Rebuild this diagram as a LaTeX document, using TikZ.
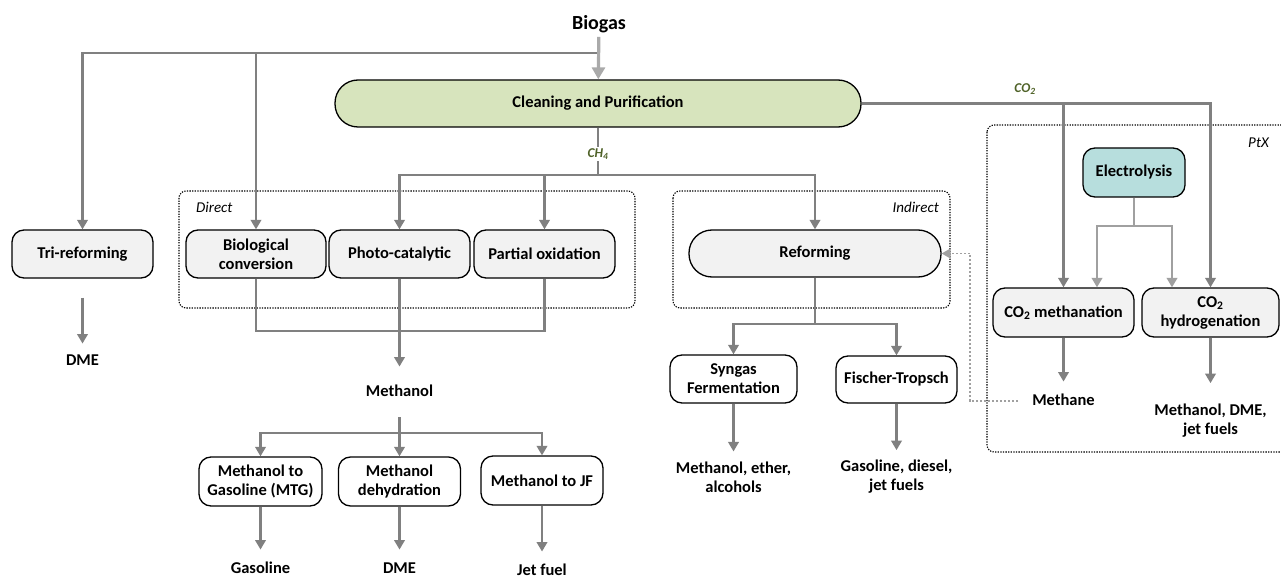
\documentclass[tikz,border=0pt]{standalone}
\usepackage{fontspec}
\setmainfont{Carlito}
\usetikzlibrary{arrows.meta}
\definecolor{linegray}{RGB}{128,128,128}
\definecolor{lightline}{RGB}{160,160,160}
\definecolor{biogasgray}{RGB}{170,170,170}
\definecolor{boxgray}{RGB}{242,242,242}
\definecolor{cleangreen}{RGB}{215,228,189}
\definecolor{electeal}{RGB}{183,222,221}
\definecolor{labelgreen}{RGB}{79,98,40}
\definecolor{dotgray}{RGB}{160,160,160}

\begin{document}
\begin{tikzpicture}[x=1pt,y=-1pt,
  txt/.style={font=\fontsize{16.5}{19}\selectfont\bfseries, align=center, inner sep=0pt},
  outtxt/.style={txt, text height=11.5pt, text depth=3pt},
  procbox/.style={txt, draw=black, line width=1.3pt, rounded corners=12pt, fill=boxgray, minimum height=48pt},
  whitebox/.style={procbox, fill=white},
  pill/.style={procbox, rounded corners=23pt},
  conn/.style={draw=linegray, line width=2.2pt},
  arr/.style={conn, -{Triangle[width=10.5pt,length=9.5pt]}},
  econn/.style={draw=lightline, line width=2.2pt},
  earr/.style={econn, -{Triangle[width=10.5pt,length=9.5pt]}},
  bigarr/.style={draw=biogasgray, line width=3.2pt, -{Triangle[width=13pt,length=12pt]}},
  dotarr/.style={draw=dotgray, line width=1.6pt, dash pattern=on 1.6pt off 2.4pt, -{Triangle[width=10pt,length=9pt]}},
  grouplabel/.style={font=\fontsize{15}{17}\selectfont\itshape, inner sep=0pt},
  flowlabel/.style={font=\fontsize{13.5}{15}\selectfont\bfseries\itshape, text=labelgreen, inner sep=1pt},
  groupbox/.style={draw=black, line width=1.1pt, dash pattern=on 1.3pt off 1.3pt, rounded corners=7pt},
]
\useasboundingbox (0,0) rectangle (1281,577);
\clip (0,0) rectangle (1281,577);

% group frames
\draw[groupbox] (179,191) rectangle (635,308);
\draw[groupbox] (673,191) rectangle (950,308);
\draw[groupbox] (987,125) rectangle (1295,452);
\node[grouplabel, anchor=west] (directlbl) at (196,207) {Direct};
\node[grouplabel, anchor=east] (indirectlbl) at (939,207) {Indirect};
\node[grouplabel, anchor=east] (ptxlbl) at (1269,143) {PtX};

% nodes
\node[txt, font=\fontsize{20}{23}\selectfont\bfseries] (biogas) at (599,24) {Biogas};
\node[pill, fill=cleangreen, minimum width=526pt, minimum height=47pt] (clean) at (598,103.5) {Cleaning and Purification};

\node[procbox, minimum width=141pt] (tri) at (82.5,254) {Tri-reforming};
\node[procbox, minimum width=140pt] (bio) at (256,254) {Biological\\conversion};
\node[procbox, minimum width=141pt] (photo) at (399.5,254) {Photo-catalytic};
\node[procbox, minimum width=141pt] (partial) at (544.5,254) {Partial oxidation};
\node[pill, minimum width=252pt, minimum height=47pt] (reform) at (815,253.5) {Reforming};

\node[procbox, fill=electeal, minimum width=102pt, minimum height=49pt] (elec) at (1134,172.5) {Electrolysis};
\node[procbox, minimum width=141pt, minimum height=49pt] (meth) at (1063.5,312.5) {CO\textsubscript{2} methanation};
\node[procbox, minimum width=137pt, minimum height=49pt] (hydro) at (1210.5,312.5) {CO\textsubscript{2}\\hydrogenation};

\node[whitebox, minimum width=127pt] (syngas) at (733.5,379) {Syngas\\Fermentation};
\node[whitebox, minimum width=121pt, minimum height=47pt] (ft) at (896.5,379.5) {Fischer-Tropsch};

\node[whitebox, minimum width=123pt, minimum height=49pt] (mtg) at (260.5,481.5) {Methanol to\\Gasoline (MTG)};
\node[whitebox, minimum width=122pt, minimum height=49pt] (deh) at (399.5,481.5) {Methanol\\dehydration};
\node[whitebox, minimum width=122pt, minimum height=49pt] (mjf) at (542,480.5) {Methanol to JF};

% outputs
\node[outtxt] (dme1) at (82.5,361) {DME};
\node[outtxt] (methanol) at (399.5,392) {Methanol};
\node[outtxt] (gasoline) at (260.5,569) {Gasoline};
\node[outtxt] (dme2) at (399.5,569) {DME};
\node[outtxt] (jetfuel) at (542,571) {Jet fuel};
\node[txt] (synout) at (733.5,477) {Methanol, ether,\\alcohols};
\node[txt] (ftout) at (896.5,477) {Gasoline, diesel,\\jet fuels};
\node[outtxt] (methane) at (1063.5,401) {Methane};
\node[txt] (hydout) at (1210.5,421) {Methanol, DME,\\jet fuels};

% biogas input
\coordinate (bsplit) at (599,53);
\draw[arr] (bsplit) -| (tri);
\draw[arr] (bsplit) -| (bio);
\draw[bigarr, shorten <=4pt] (biogas) -- (clean);

% CH4 branch
\coordinate (chsplit) at (598,175);
\draw[conn] (clean) -- (chsplit);
\node[flowlabel, fill=white] (ch4) at (598,154) {CH\textsubscript{4}};
\draw[arr] (chsplit) -| (photo);
\draw[arr] (chsplit) -| (partial);
\draw[arr] (chsplit) -| (reform);

% direct routes to methanol
\coordinate (join) at (399.5,331);
\draw[conn] (bio.south) |- (join) -| (partial.south);
\draw[arr, shorten >=18pt] (photo) -- (methanol);

% tri-reforming
\draw[arr, shorten <=19pt, shorten >=10pt] (tri) -- (dme1);

% methanol upgrading
\coordinate (msplit) at (399.5,433);
\draw[conn, shorten <=18pt] (methanol) -- (msplit);
\draw[arr] (msplit) -| (mtg);
\draw[arr] (msplit) -- (deh);
\draw[arr] (msplit) -| (mjf);
\draw[arr, shorten >=12pt] (mtg) -- (gasoline);
\draw[arr, shorten >=12pt] (deh) -- (dme2);
\draw[arr, shorten >=12pt] (mjf) -- (jetfuel);

% reforming
\coordinate (rsplit) at (815,324);
\draw[conn] (reform) -- (rsplit);
\draw[arr] (rsplit) -| (syngas);
\draw[arr] (rsplit) -| (ft);
\draw[arr, shorten >=10pt] (syngas) -- (synout);
\draw[arr, shorten >=10pt] (ft) -- (ftout);

% CO2 branch
\draw[arr] (clean.east) -| (hydro);
\coordinate (co2b) at (1063.5,103.5);
\draw[arr] (co2b) -- (meth);
\node[flowlabel] (co2) at (1025,89) {CO\textsubscript{2}};

% electrolysis
\coordinate (esplit) at (1134,226);
\draw[econn] (elec) -- (esplit);
\draw[earr] (esplit) -| ([xshift=33.5pt]meth.north);
\draw[earr] (esplit) -| ([xshift=-38.5pt]hydro.north);
\draw[arr, shorten >=12pt] (meth) -- (methane);
\draw[arr, shorten >=21pt] (hydro) -- (hydout);

% methane recycle
\coordinate (dotc) at (970,253.5);
\draw[dotarr, shorten <=14pt] (methane.west) -| (dotc) -- (reform.east);
\end{tikzpicture}
\end{document}
